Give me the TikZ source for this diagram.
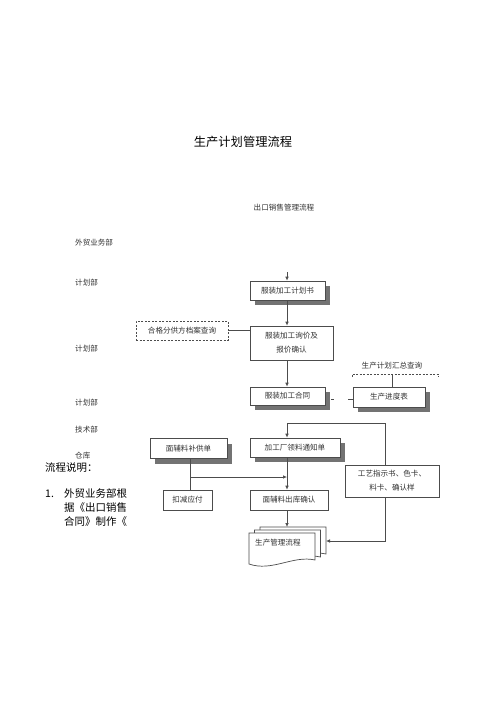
\documentclass[tikz,border=0pt]{standalone}
\usepackage{fontspec}
\newfontfamily\cjk{Noto Sans CJK SC}
\usetikzlibrary{arrows.meta,shadows,calc}
\begin{document}
\begin{tikzpicture}[x=1bp,y=-1bp,
  font=\cjk\fontsize{7.6}{14}\selectfont,
  every node/.style={text=black!80},
  box/.style={draw=black!70, line width=0.7bp, fill=white, inner sep=0pt, align=center},
  shbox/.style={box, drop shadow={shadow xshift=5bp, shadow yshift=-5bp, fill=black!55, opacity=1}},
  dashbox/.style={box, dash pattern=on 2bp off 1.5bp},
  ln/.style={draw=black!70, line width=0.7bp},
  arr/.style={ln, -{Latex[length=4bp,width=3.6bp]}},
  lab/.style={anchor=west, inner sep=0pt},
  big/.style={anchor=west, inner sep=0pt, font=\cjk\fontsize{10.5}{12}\selectfont, text=black}
]
\fill[white] (0,0) rectangle (500,708);
\useasboundingbox (0,0) rectangle (500,708);

% titles
\node[inner sep=0pt, font=\cjk\fontsize{12.3}{14}\selectfont, text=black] (title) at (243,142) {生产计划管理流程};
\node[inner sep=0pt] (sub) at (284,208) {出口销售管理流程};

% left labels
\node[lab] (l1) at (75,243) {外贸业务部};
\node[lab] (l2) at (75,283) {计划部};
\node[lab] (l3) at (75,349) {计划部};
\node[lab] (l4) at (75,403) {计划部};
\node[lab] (l5) at (75,430) {技术部};
\node[lab] (l6) at (75,456) {仓库};

% explanation text
\node[big] (e0) at (45,468) {流程说明：};
\node[big] (e1) at (45,494) {1.};
\node[big] (e2) at (64,494) {外贸业务部根};
\node[big] (e3) at (64,508) {据《出口销售};
\node[big] (e4) at (64,522) {合同》制作《};

% boxes
\node[shbox, minimum width=75bp, minimum height=19bp] (A) at (287.5,290.5) {服装加工计划书};
\node[box, minimum width=83bp, minimum height=34bp] (B) at (291.5,343) {服装加工询价及\\报价确认};
\node[dashbox, minimum width=92bp, minimum height=19bp] (Q) at (182,330.5) {合格分供方档案查询};
\node[shbox, minimum width=75bp, minimum height=18bp] (C) at (287.5,396) {服装加工合同};
\node[shbox, minimum width=72bp, minimum height=20bp] (P) at (389,397) {生产进度表};
\node[inner sep=0pt] (S) at (392,366) {生产计划汇总查询};
\node[shbox, minimum width=90bp, minimum height=19bp] (D) at (295,447.5) {加工厂领料通知单};
\node[shbox, minimum width=77bp, minimum height=20bp] (R) at (188.5,448.5) {面辅料补供单};
\node[box, minimum width=49bp, minimum height=20bp] (K) at (187.5,500) {扣减应付};
\node[box, minimum width=78bp, minimum height=20bp] (O) at (289,500) {面辅料出库确认};
\node[box, minimum width=94bp, minimum height=32bp] (G) at (392,481) {工艺指示书、色卡、\\料卡、确认样};

% document (stacked pages)
\foreach \dx/\dy in {11/-6, 5.5/-3, 0/0}{
  \draw[ln, fill=white, shift={(\dx,\dy)}] (249,533) -- (315,533) -- (315,560)
    .. controls (293,555) and (272,572) .. (249,564) -- cycle;
}
\node[lab] (T) at (255,543) {生产管理流程};

% coordinates
\coordinate (sp) at (287,272);
\coordinate (V) at (385,423);
\coordinate (J) at (190,477);
\coordinate (W) at (385,541);
\coordinate (docTop) at (287,527);
\coordinate (docR) at (326,541);
\coordinate (SL) at (352,374);
\coordinate (SR) at (438,374);
\coordinate (SM) at (392,374);
\coordinate (cE) at ([shift={(6,3)}]C.east);

% connectors
\draw[arr] (sp) -- (A.north -| sp);
\draw[arr] (A.south -| sp) -- (B.north -| sp);
\draw[ln] (Q.east) -- (Q.east -| B.west);
\draw[arr] (B.south -| sp) -- (C.north -| sp);
\draw[ln, dash pattern=on 3bp off 14bp on 6bp off 1bp] (cE) -- (cE -| P.west);
\draw[ln, dash pattern=on 2bp off 1.5bp] ([yshift=-3bp]SL) -- (SL) -- (SR) -- ([yshift=-3bp]SR);
\draw[ln] (SM) -- (P.north -| SM);
\draw[arr] (G.north -| V) -- (V) -- (V -| sp) -- (D.north -| sp);
\draw[arr] (D.south -| sp) -- (O.north -| sp);
\draw[ln] (R.south -| J) -- (K.north -| J);
\draw[arr] (J) -- (J -| sp);
\draw[arr] (O.south -| sp) -- (docTop);
\draw[arr] (G.south -| V) -- (W) -- (docR);
\end{tikzpicture}
\end{document}
